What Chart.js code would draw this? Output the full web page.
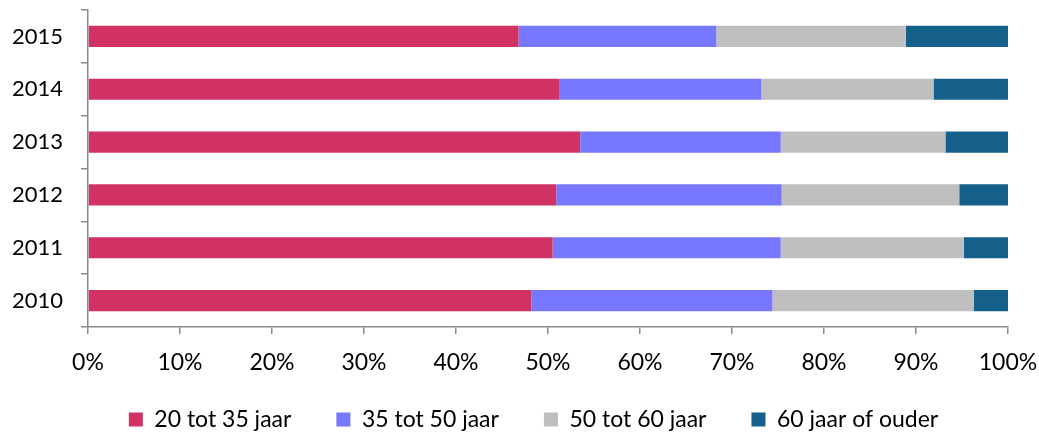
<!DOCTYPE html>
<html lang="nl">
<head>
    <meta charset="UTF-8">
    <title>Leeftijd</title>
    <style>
        html, body { margin: 0; padding: 0; background: #fff; }
    </style>
</head>
<body>
    <canvas id="myCanvas" width="1039" height="433"></canvas>
    <script src="https://cdn.jsdelivr.net/npm/chart.js@4/dist/chart.umd.min.js"></script>
    <script>
        // jaren, van boven naar beneden zoals in de grafiek
        const years = ['2015', '2014', '2013', '2012', '2011', '2010'];
        const age20to35 = [46.8, 51.2, 53.5, 50.9, 50.5, 48.2];
        const age35to50 = [21.5, 22.0, 21.8, 24.5, 24.8, 26.2];
        const age50to60 = [20.6, 18.7, 17.9, 19.3, 19.9, 21.9];
        const age60plus = [11.1, 8.1, 6.8, 5.3, 4.8, 3.7];
        const xTicks = [0, 10, 20, 30, 40, 50, 60, 70, 80, 90, 100];

        const font = 'Lato';
        const axisColor = '#8a8a8a';

        // legenda iets verschuiven zodat hij onder de grafiek staat zoals in Excel
        const legendShift = {
            id: 'legendShift',
            afterLayout(chart) {
                const lg = chart.legend;
                lg.top -= 14; lg.bottom -= 14;
                lg.left += 8; lg.right += 8;
            }
        };

        const ctx = document.getElementById('myCanvas').getContext('2d');
        const myChart = new Chart(ctx, {
            type: 'bar',
            data: {
                labels: years,
                datasets: [
                    { label: '20 tot 35 jaar', data: age20to35, backgroundColor: 'rgb(208,51,99)' },
                    { label: '35 tot 50 jaar', data: age35to50, backgroundColor: 'rgb(119,119,255)' },
                    { label: '50 tot 60 jaar', data: age50to60, backgroundColor: 'rgb(191,191,191)' },
                    { label: '60 jaar of ouder', data: age60plus, backgroundColor: 'rgb(20,96,139)' }
                ]
            },
            plugins: [legendShift],
            options: {
                responsive: false,
                animation: false,
                indexAxis: 'y',
                layout: { padding: { top: 10, right: 0, left: 12, bottom: -22 } },
                datasets: { bar: { categoryPercentage: 1, barPercentage: 0.4 } },
                scales: {
                    x: {
                        stacked: true,
                        min: 0,
                        max: 100,
                        afterBuildTicks: axis => { axis.ticks = xTicks.map(v => ({ value: v })); },
                        afterFit: axis => { axis.height = 50; axis.paddingRight = 31; },
                        ticks: {
                            callback: v => v + '%',
                            color: '#000',
                            font: { family: font, size: 23 },
                            padding: 15,
                            maxRotation: 0
                        },
                        grid: { drawOnChartArea: false, tickLength: 7, color: axisColor, lineWidth: 1.5 },
                        border: { color: axisColor, width: 1.5 }
                    },
                    y: {
                        stacked: true,
                        afterFit: axis => { axis.width = 76; axis.paddingTop = 0; axis.paddingBottom = 0; },
                        ticks: {
                            color: '#000',
                            font: { family: font, size: 22 },
                            padding: 18
                        },
                        grid: { drawOnChartArea: false, tickLength: 7, color: axisColor, lineWidth: 1.5, offset: true },
                        border: { color: axisColor, width: 1.5 }
                    }
                },
                plugins: {
                    tooltip: { enabled: false },
                    legend: {
                        position: 'bottom',
                        labels: {
                            color: '#000',
                            font: { family: font, size: 23 },
                            boxWidth: 14,
                            boxHeight: 14,
                            padding: 45
                        }
                    }
                }
            }
        });
    </script>
</body>
</html>
